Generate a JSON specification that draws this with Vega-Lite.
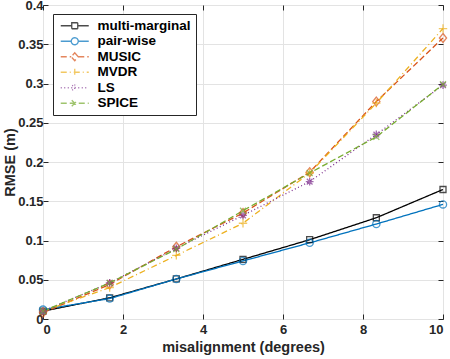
{
  "$schema": "https://vega.github.io/schema/vega-lite/v6.json",
  "width": 400,
  "height": 314,
  "autosize": {"type": "none"},
  "padding": {"left": 43, "top": 5, "right": 7, "bottom": 40},
  "background": "white",
  "config": {
    "font": "Liberation Sans",
    "view": {"stroke": "#262626", "strokeWidth": 1},
    "axis": {
      "labelFont": "Liberation Sans",
      "labelFontWeight": "bold",
      "labelFontSize": 13,
      "labelColor": "#262626",
      "titleFont": "Liberation Sans",
      "titleFontSize": 14.5,
      "titleFontWeight": "bold",
      "titleColor": "#262626",
      "domain": false,
      "tickColor": "#262626",
      "tickSize": -5,
      "gridColor": "#e3e3e3",
      "gridWidth": 1
    }
  },
  "data": {
    "values": [
      {"series": "multi-marginal", "x": 0, "y": 0.010},
      {"series": "multi-marginal", "x": 1.6667, "y": 0.027},
      {"series": "multi-marginal", "x": 3.3333, "y": 0.051},
      {"series": "multi-marginal", "x": 5, "y": 0.076},
      {"series": "multi-marginal", "x": 6.6667, "y": 0.101},
      {"series": "multi-marginal", "x": 8.3333, "y": 0.129},
      {"series": "multi-marginal", "x": 10, "y": 0.165},
      {"series": "pair-wise", "x": 0, "y": 0.012},
      {"series": "pair-wise", "x": 1.6667, "y": 0.026},
      {"series": "pair-wise", "x": 3.3333, "y": 0.051},
      {"series": "pair-wise", "x": 5, "y": 0.074},
      {"series": "pair-wise", "x": 6.6667, "y": 0.097},
      {"series": "pair-wise", "x": 8.3333, "y": 0.121},
      {"series": "pair-wise", "x": 10, "y": 0.146},
      {"series": "MUSIC", "x": 0, "y": 0.008},
      {"series": "MUSIC", "x": 1.6667, "y": 0.044},
      {"series": "MUSIC", "x": 3.3333, "y": 0.092},
      {"series": "MUSIC", "x": 5, "y": 0.135},
      {"series": "MUSIC", "x": 6.6667, "y": 0.187},
      {"series": "MUSIC", "x": 8.3333, "y": 0.277},
      {"series": "MUSIC", "x": 10, "y": 0.358},
      {"series": "MVDR", "x": 0, "y": 0.010},
      {"series": "MVDR", "x": 1.6667, "y": 0.040},
      {"series": "MVDR", "x": 3.3333, "y": 0.081},
      {"series": "MVDR", "x": 5, "y": 0.122},
      {"series": "MVDR", "x": 6.6667, "y": 0.186},
      {"series": "MVDR", "x": 8.3333, "y": 0.275},
      {"series": "MVDR", "x": 10, "y": 0.370},
      {"series": "LS", "x": 0, "y": 0.010},
      {"series": "LS", "x": 1.6667, "y": 0.046},
      {"series": "LS", "x": 3.3333, "y": 0.090},
      {"series": "LS", "x": 5, "y": 0.132},
      {"series": "LS", "x": 6.6667, "y": 0.175},
      {"series": "LS", "x": 8.3333, "y": 0.235},
      {"series": "LS", "x": 10, "y": 0.298},
      {"series": "SPICE", "x": 0, "y": 0.010},
      {"series": "SPICE", "x": 1.6667, "y": 0.046},
      {"series": "SPICE", "x": 3.3333, "y": 0.089},
      {"series": "SPICE", "x": 5, "y": 0.138},
      {"series": "SPICE", "x": 6.6667, "y": 0.186},
      {"series": "SPICE", "x": 8.3333, "y": 0.232},
      {"series": "SPICE", "x": 10, "y": 0.299}
    ]
  },
  "resolve": {"axis": {"x": "independent", "y": "independent"}},
  "layer": [
    {
      "mark": {"type": "line", "strokeWidth": 1.3},
      "encoding": {
        "x": {"field": "x", "type": "quantitative", "scale": {"domain": [0, 10], "nice": false},
              "axis": {"values": [0, 2, 4, 6, 8, 10], "title": "misalignment (degrees)", "labelPadding": 9, "titlePadding": 4}},
        "y": {"field": "y", "type": "quantitative", "scale": {"domain": [0, 0.4], "nice": false},
              "axis": {"values": [0, 0.05, 0.1, 0.15, 0.2, 0.25, 0.3, 0.35, 0.4], "title": "RMSE (m)", "labelPadding": 5, "titlePadding": 0, "labelExpr": "datum.value === 0 ? '0' : format(datum.value, '~g')"}},
        "color": {"field": "series", "type": "nominal",
                  "scale": {"domain": ["multi-marginal", "pair-wise", "MUSIC", "MVDR", "LS", "SPICE"],
                            "range": ["#000000", "#0072BD", "#D95319", "#EDB120", "#7E2F8E", "#77AC30"]}},
        "strokeDash": {"field": "series", "type": "nominal", "legend": null,
                       "scale": {"domain": ["multi-marginal", "pair-wise", "MUSIC", "MVDR", "LS", "SPICE"],
                                 "range": [[1, 0], [1, 0], [6, 3], [6, 3, 1, 3], [1, 2.5], [6, 3]]}}
      }
    },
    {
      "mark": {"type": "point", "filled": false, "strokeWidth": 1.3, "size": 36},
      "encoding": {
        "x": {"field": "x", "type": "quantitative", "axis": null},
        "y": {"field": "y", "type": "quantitative", "axis": null},
        "color": {"field": "series", "type": "nominal"},
        "shape": {
          "condition": [
            {"test": "datum.series === 'multi-marginal'", "value": "M-1,-1H1V1H-1Z"},
            {"test": "datum.series === 'pair-wise'", "value": "M1.2,0A1.2,1.2,0,1,1,-1.2,0A1.2,1.2,0,1,1,1.2,0Z"},
            {"test": "datum.series === 'MUSIC'", "value": "M0,-1.5L1.2,0L0,1.5L-1.2,0Z"},
            {"test": "datum.series === 'MVDR'", "value": "M-1.4,0H1.4M0,-1.4V1.4"},
            {"test": "datum.series === 'LS'", "value": "M-1.3,0H1.3M0,-1.3V1.3M-0.95,-0.95L0.95,0.95M-0.95,0.95L0.95,-0.95"}
          ],
          "value": "M-1,-1L1,1M-1,1L1,-1"
        }
      }
    },
    {
      "transform": [{"filter": "false"}],
      "mark": {"type": "point", "filled": false, "strokeWidth": 1.3},
      "encoding": {
        "x": {"field": "x", "type": "quantitative", "axis": null},
        "y": {"field": "y", "type": "quantitative", "axis": null},
        "color": {"field": "series", "type": "nominal",
                  "legend": {
                    "title": null, "orient": "none", "legendX": 10, "legendY": 9,
                    "strokeColor": "#262626", "fillColor": "white", "padding": 5,
                    "labelFontSize": 13.5, "labelFontWeight": "bold", "labelColor": "#000000",
                    "labelFont": "Liberation Sans",
                    "rowPadding": 0.5, "symbolOffset": 10, "labelOffset": 16, "symbolStrokeWidth": 1.3,
                    "symbolSize": 100
                  }},
        "shape": {"field": "series", "type": "nominal",
                  "legend": {
                    "title": null, "orient": "none", "legendX": 10, "legendY": 9,
                    "strokeColor": "#262626", "fillColor": "white", "padding": 5,
                    "labelFontSize": 13.5, "labelFontWeight": "bold", "labelColor": "#000000",
                    "labelFont": "Liberation Sans",
                    "rowPadding": 0.5, "symbolOffset": 10, "labelOffset": 16, "symbolStrokeWidth": 1.3,
                    "symbolSize": 100
                  },
                  "scale": {"domain": ["multi-marginal", "pair-wise", "MUSIC", "MVDR", "LS", "SPICE"],
                            "range": ["M-2.8,0H-0.6M0.6,0H2.8M-0.6,-0.6H0.6V0.6H-0.6Z",
                                      "M-2.8,0H-0.7M0.7,0H2.8M0.7,0A0.7,0.7,0,1,1,-0.7,0A0.7,0.7,0,1,1,0.7,0Z",
                                      "M-2.8,0H-0.7M0.7,0H2.8M0,-0.8L0.7,0L0,0.8L-0.7,0Z",
                                      "M-2.8,0H2.8M0,-0.7V0.7",
                                      "M-2.8,0H2.8M0,-0.65V0.65M-0.5,-0.5L0.5,0.5M-0.5,0.5L0.5,-0.5",
                                      "M-2.8,0H2.8M-0.6,-0.6L0.6,0.6M-0.6,0.6L0.6,-0.6"]}}
      }
    },
    {
      "mark": {"type": "point", "opacity": 0},
      "encoding": {
        "x": {"field": "x", "type": "quantitative",
              "axis": {"orient": "top", "values": [0, 2, 4, 6, 8, 10], "labels": false, "grid": false, "title": null}},
        "y": {"field": "y", "type": "quantitative",
              "axis": {"orient": "right", "values": [0, 0.05, 0.1, 0.15, 0.2, 0.25, 0.3, 0.35, 0.4], "labels": false, "grid": false, "title": null}}
      }
    }
  ]
}
